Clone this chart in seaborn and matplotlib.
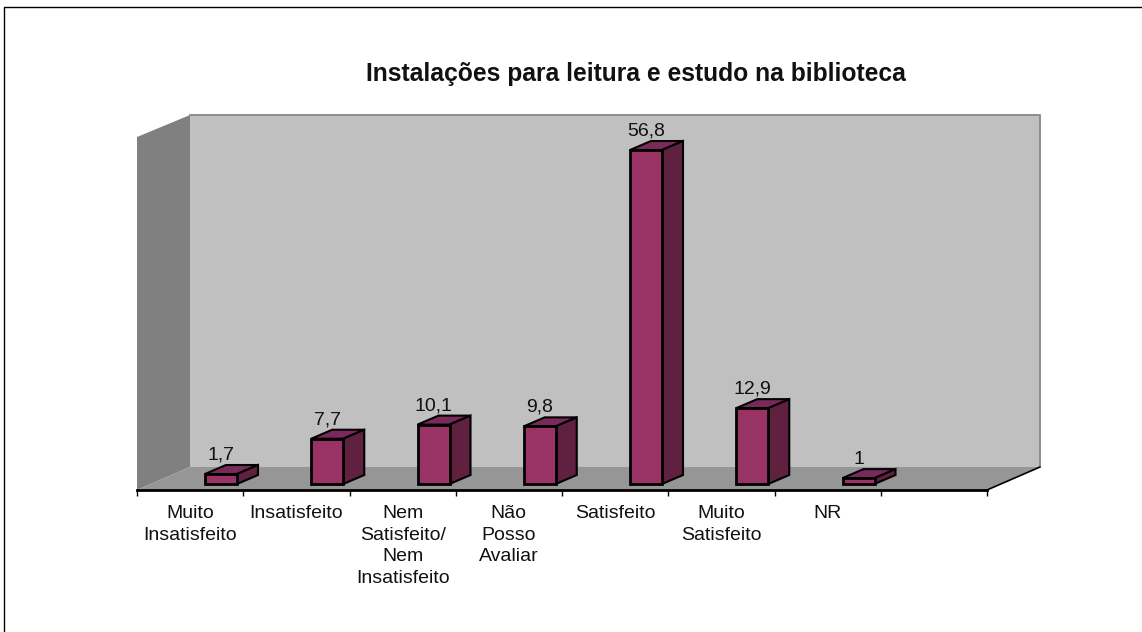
#!/usr/bin/python3

"""Instalacoes para leitura e estudo na biblioteca: fake 3D bar chart."""

# %% Import dependencies ----
import matplotlib
matplotlib.use('Agg')
import matplotlib.pyplot as plt
from matplotlib.patches import Polygon
from matplotlib.lines import Line2D
from matplotlib.transforms import Affine2D
import pandas as pd
import seaborn as sns


# %% Data ----
categories = ['Muito\nInsatisfeito', 'Insatisfeito', 'Nem\nSatisfeito/\nNem\nInsatisfeito',
              'Não\nPosso\nAvaliar', 'Satisfeito', 'Muito\nSatisfeito', 'NR']
values = [1.7, 7.7, 10.1, 9.8, 56.8, 12.9, 1.0]
value_labels = ['1,7', '7,7', '10,1', '9,8', '56,8', '12,9', '1']
title = 'Instalações para leitura e estudo na biblioteca'


# %% Style ----
sns.set_theme(style='white')
plt.rcParams['font.family'] = ['Liberation Sans', 'DejaVu Sans']

W, H = 1142, 632
slot_px = 106.25    # width of one category slot
unit_px = 5.88      # pixels per percent
depth_px = (21, 9)  # bar depth, right and up

fig = plt.figure(figsize=(W/100, H/100), dpi=100, facecolor='white')
# axes run from the front left floor corner to the front right one
ax = fig.add_axes([137/W, 1 - 490/H, 850/W, 375/H])
ax.patch.set_visible(False)

# pixel coordinates, origin at top left, for the scenery
pix = Affine2D().scale(1, -1).translate(0, H)


# %% Scenery ----
scenery = [
    ([(137, 137), (190, 115), (190, 467), (137, 490)], '#808080'),  # left wall
    ([(190, 115), (1040, 115), (1040, 467), (190, 467)], '#c0c0c0'),  # back wall
    ([(137, 490), (190, 467), (1040, 467), (987, 490)], '#969696'),  # floor
]
for pts, col in scenery:
    ax.add_patch(Polygon(pts, closed=True, facecolor=col, edgecolor='none',
                         transform=pix, clip_on=False, zorder=0))
ax.add_line(Line2D([190, 1040, 1040], [115, 115, 467], color='#8c8c8c', lw=1.4,
                   transform=pix, clip_on=False, zorder=0.5))
ax.add_line(Line2D([987, 1040], [490, 467], color='black', lw=1.2,
                   transform=pix, clip_on=False, zorder=0.5))

# page frame: only top and left are visible
fig.add_artist(Line2D([4, 4, W], [H, 7, 7], color='black', lw=1, transform=pix))


# %% Bars ----
df = pd.DataFrame({'category': categories, 'value': values})
sns.barplot(data=df, x='category', y='value', color='#993366', saturation=1,
            width=32/slot_px, edgecolor='black', linewidth=2, ax=ax, zorder=3)

# category 0 has its front face centred at x=221 px
x0 = (137 - 221)/slot_px
ax.set_xlim(x0, x0 + 8)
ax.set_ylim((484 - 490)/unit_px, (484 - 115)/unit_px)

# fake depth: top and side faces for every bar
dx, dy = depth_px[0]/slot_px, depth_px[1]/unit_px
for bar in ax.patches:
    if not isinstance(bar, plt.Rectangle) or bar.get_zorder() != 3:
        continue
    xl, w, h = bar.get_x(), bar.get_width(), bar.get_height()
    xr = xl + w
    ax.add_patch(Polygon([(xl, h), (xr, h), (xr + dx, h + dy), (xl + dx, h + dy)],
                         facecolor='#7a2a5a', edgecolor='black', lw=1.5, zorder=2.5, clip_on=False))
    ax.add_patch(Polygon([(xr, 0), (xr + dx, dy), (xr + dx, h + dy), (xr, h)],
                         facecolor='#602040', edgecolor='black', lw=1.5, zorder=2.5, clip_on=False))

ax.bar_label(ax.containers[0], labels=value_labels, padding=7.5, fontsize=14, color='#111111', zorder=4)


# %% Axis ----
for side in ['top', 'left', 'right']:
    ax.spines[side].set_visible(False)
ax.spines['bottom'].set_linewidth(2)
ax.spines['bottom'].set_color('black')
ax.spines['bottom'].set_zorder(5)

ax.set_xlabel('')
ax.set_ylabel('')
ax.set_yticks([])
# labels sit mid slot, ticks on slot borders
ax.set_xticks([x0 + i + 0.5 for i in range(len(categories))], labels=categories)
ax.set_xticks([x0 + i for i in range(9)], minor=True)
ax.tick_params(axis='x', which='major', length=0, pad=10.7, labelsize=14, labelcolor='#111111')
ax.tick_params(axis='x', which='minor', length=4, width=1, color='black', bottom=True)
for lab in ax.get_xticklabels():
    lab.set_linespacing(1.37)

fig.text(636/W, 1 - 74/H, title, ha='center', va='center', fontsize=17.7,
         fontweight='bold', color='#111111')


# %% Save ----
fig.savefig('out.png', dpi=100)
